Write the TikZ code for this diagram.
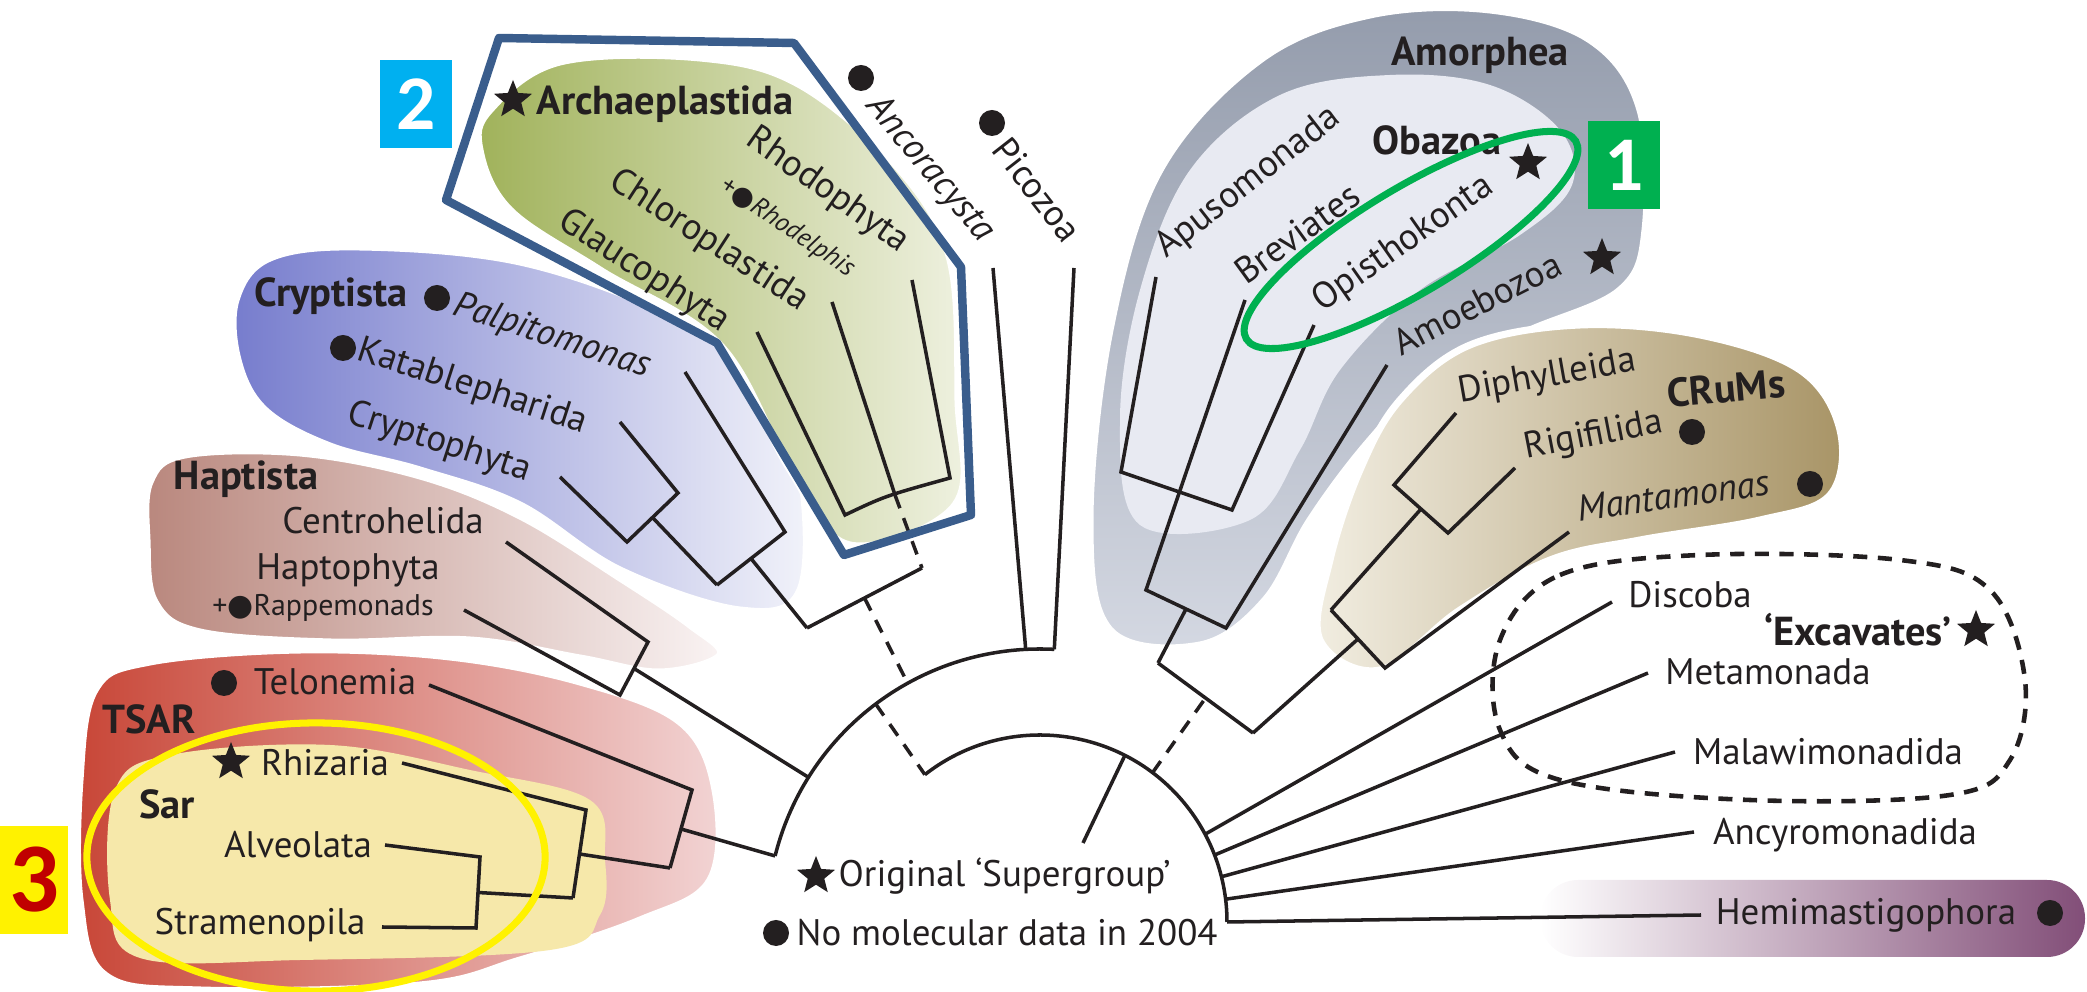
\documentclass[tikz,border=0pt]{standalone}
\usepackage{fontspec}
\setmainfont{PT Sans}
\newfontfamily\tagfont{Carlito}
\newfontfamily\symfont{DejaVu Sans}
\usetikzlibrary{shapes.geometric,calc}

\definecolor{inkc}{RGB}{35,31,32}
\definecolor{archL}{RGB}{160,178,90}
\definecolor{archR}{RGB}{240,242,226}
\definecolor{cryL}{RGB}{118,124,205}
\definecolor{cryR}{RGB}{242,243,250}
\definecolor{hapL}{RGB}{185,135,125}
\definecolor{hapR}{RGB}{250,244,244}
\definecolor{tsarL}{RGB}{200,70,55}
\definecolor{tsarR}{RGB}{242,212,212}
\definecolor{sarC}{RGB}{246,232,170}
\definecolor{amoTop}{RGB}{148,156,172}
\definecolor{amoBot}{RGB}{212,216,226}
\definecolor{obaC}{RGB}{232,234,242}
\definecolor{crumL}{RGB}{242,238,226}
\definecolor{crumR}{RGB}{168,148,102}
\definecolor{hemiR}{RGB}{130,78,120}
\definecolor{polyblue}{RGB}{58,93,140}
\definecolor{boxcyan}{RGB}{0,176,240}
\definecolor{boxgreen}{RGB}{0,176,80}
\definecolor{tagred}{RGB}{192,0,0}

\begin{document}
\begin{tikzpicture}[x=0.01cm,y=0.01cm,
  taxon/.style={font=\fontsize{10.5}{12}\selectfont, text=inkc, inner sep=0pt},
  taxit/.style={font=\fontsize{10.5}{12}\selectfont\itshape, text=inkc, inner sep=0pt},
  clade/.style={font=\fontsize{11.5}{13}\selectfont\bfseries, text=inkc, inner sep=0pt},
  small/.style={font=\fontsize{7.5}{9}\selectfont, text=inkc, inner sep=0pt},
  branch/.style={line width=1pt, draw=inkc},
  unsure/.style={line width=1pt, draw=inkc, dash pattern=on 4pt off 3pt},
  nodata/.style={circle, fill=inkc, minimum size=0.26cm, inner sep=0pt},
  super/.style={star, star points=5, star point ratio=2.3, fill=inkc, minimum size=0.4cm, inner sep=0pt},
  blob/.style={draw=white, line width=2pt},
  tag/.style={minimum width=0.72cm, minimum height=0.88cm, inner sep=0pt, font=\tagfont\bfseries\fontsize{22}{22}\selectfont, text=white}
]
\useasboundingbox (0,0) rectangle (2087,-992);

% coloured clades
\shadedraw[blob, left color=cryL, right color=cryR] plot[smooth cycle, tension=0.6] coordinates {(236,-300) (270,-258) (360,-247) (520,-262) (670,-315) (760,-380) (800,-470) (800,-590) (740,-610) (620,-570) (520,-505) (420,-470) (330,-446) (265,-410) (238,-360)};
\shadedraw[blob, left color=hapL, right color=hapR] plot[smooth cycle, tension=0.6] coordinates {(150,-482) (185,-455) (300,-453) (420,-476) (520,-516) (620,-578) (690,-625) (720,-655) (660,-672) (580,-658) (470,-640) (330,-642) (200,-632) (155,-602) (147,-540)};
\shadedraw[blob, left color=tsarL, right color=tsarR] plot[smooth cycle, tension=0.6] coordinates {(95,-690) (150,-662) (300,-650) (450,-657) (580,-682) (680,-722) (715,-790) (710,-880) (640,-920) (520,-960) (420,-985) (200,-990) (105,-975) (80,-900) (80,-780)};
\fill[sarC] plot[smooth cycle, tension=0.6] coordinates {(115,-790) (170,-755) (330,-745) (470,-770) (590,-800) (605,-860) (600,-915) (550,-950) (300,-960) (140,-958) (110,-900)};
\shadedraw[blob, left color=archL, right color=archR] plot[smooth cycle, tension=0.6] coordinates {(490,-110) (560,-62) (700,-58) (800,-85) (900,-170) (950,-260) (958,-400) (955,-505) (850,-545) (790,-470) (720,-345) (600,-270) (510,-210) (480,-150)};
\shadedraw[blob, top color=amoTop, bottom color=amoBot] plot[smooth cycle, tension=0.6] coordinates {(1110,-330) (1160,-170) (1260,-60) (1370,-15) (1490,-10) (1590,-40) (1640,-110) (1645,-230) (1620,-290) (1530,-330) (1440,-370) (1370,-440) (1310,-520) (1265,-600) (1200,-645) (1110,-630) (1090,-520)};
\fill[obaC] plot[smooth cycle, tension=0.6] coordinates {(1140,-290) (1190,-170) (1280,-95) (1390,-75) (1490,-85) (1560,-130) (1572,-185) (1520,-235) (1420,-290) (1340,-370) (1300,-450) (1250,-520) (1140,-525) (1120,-420)};
\shadedraw[blob, left color=crumL, right color=crumR] plot[smooth cycle, tension=0.6] coordinates {(1400,-400) (1470,-345) (1580,-325) (1700,-335) (1800,-370) (1840,-430) (1830,-495) (1760,-520) (1640,-540) (1550,-560) (1460,-610) (1380,-670) (1320,-640) (1330,-560) (1360,-470)};
\shade[left color=white, middle color=hemiR!45, right color=hemiR, rounded corners=0.38cm] (1540,-880) rectangle (2085,-957);

% tree tips and joints
\coordinate (O) at (1040,-922);
\coordinate (oTsar) at ($(O)+(166:273)$);
\coordinate (oHap) at ($(O)+(148:273)$);
\coordinate (oRoot) at ($(O)+(127:273)$);
\coordinate (oCA) at ($(O)+(119:273)$);
\coordinate (oAnc) at ($(O)+(93:273)$);
\coordinate (oPic) at ($(O)+(87:273)$);
\coordinate (iLeft) at ($(O)+(128:187)$);
\coordinate (iRoot) at ($(O)+(63:187)$);
\coordinate (iAC) at ($(O)+(53:187)$);
\coordinate (root) at (1083,-843);

\coordinate (glauT) at (757,-332);  \coordinate (glauB) at (845,-515);
\coordinate (chloT) at (832,-302);  \coordinate (chloB) at (895,-495);
\coordinate (rhodT) at (912,-280);  \coordinate (rhodB) at (950,-478);
\coordinate (caL) at (807,-628);    \coordinate (caR) at (922,-568);
\coordinate (palT) at (685,-372);   \coordinate (palB) at (785,-532);
\coordinate (cryL) at (717,-585);
\coordinate (kataT) at (620,-422);  \coordinate (kataB) at (678,-493);
\coordinate (cphT) at (560,-477);   \coordinate (cphB) at (627,-542);
\coordinate (cenT) at (506,-542);   \coordinate (cenB) at (648,-642);
\coordinate (rapT) at (464,-610);   \coordinate (rapB) at (620,-695);
\coordinate (telT) at (429,-685);   \coordinate (telB) at (692,-790);
\coordinate (tsB) at (670,-868);
\coordinate (rhiT) at (402,-763);   \coordinate (rhiB) at (586,-810);
\coordinate (sarB) at (573,-898);
\coordinate (alvT) at (385,-845);   \coordinate (alvB) at (480,-857);
\coordinate (strT) at (382,-927);   \coordinate (strB) at (476,-928);
\coordinate (ancT) at (993,-268);   \coordinate (picT) at (1074,-268);
\coordinate (amL) at (1158,-663);   \coordinate (amR) at (1253,-733);
\coordinate (breT) at (1245,-300);  \coordinate (breB) at (1146,-590);
\coordinate (amoT) at (1387,-365);  \coordinate (amoB) at (1226,-628);
\coordinate (apuT) at (1156,-277);  \coordinate (apuB) at (1121,-472);
\coordinate (opiT) at (1314,-325);  \coordinate (opiB) at (1232,-510);
\coordinate (cruL) at (1331,-610);
\coordinate (manT) at (1569,-532);  \coordinate (manB) at (1385,-668);
\coordinate (dipT) at (1456,-413);  \coordinate (dipB) at (1394,-485);
\coordinate (rigT) at (1515,-468);  \coordinate (rigB) at (1448,-533);
\coordinate (disT) at (1612,-602);  \coordinate (metT) at (1648,-673);
\coordinate (malT) at (1675,-752);  \coordinate (ancyT) at (1694,-832);
\coordinate (hemT) at (1701,-915);

% backbone
\draw[branch] (oTsar) arc[start angle=166, end angle=87, radius=273];
\draw[branch] (iLeft) arc[start angle=128, end angle=0, radius=187];
\draw[unsure] (oRoot) -- (iLeft);
\draw[branch] (iRoot) -- (root);
\draw[branch] (ancT) -- (oAnc);
\draw[branch] (picT) -- (oPic);

% Archaeplastida and Cryptista
\draw[branch] (glauT) -- (glauB) .. controls (885,-496) .. (rhodB) -- (rhodT);
\draw[branch] (chloT) -- (chloB);
\draw[unsure] (chloB) -- (caR);
\draw[branch] (caL) -- (caR);
\draw[unsure] ($(caL)!.5!(caR)$) -- (oCA);
\draw[branch] (palT) -- (palB) -- (cryL);
\draw[branch] ($(cryL)!.5!(palB)$) -- (caL);
\draw[branch] (kataT) -- (kataB) -- (cphB) -- (cphT);
\draw[branch] ($(kataB)!.5!(cphB)$) -- (cryL);

% Haptista
\draw[branch] (cenT) -- (cenB) -- (rapB) -- (rapT);
\draw[branch] ($(cenB)!.5!(rapB)$) -- (oHap);

% TSAR
\draw[branch] (alvT) -- (alvB) -- (strB) -- (strT);
\draw[branch] ($(alvB)!.5!(strB)$) -- (sarB);
\draw[branch] (rhiT) -- (rhiB) -- (sarB);
\draw[branch] ($(rhiB)!.5!(sarB)$) -- (tsB);
\draw[branch] (telT) -- (telB) -- (tsB);
\draw[branch] ($(telB)!.5!(tsB)$) -- (oTsar);

% Amorphea and CRuMs
\draw[unsure] (iAC) -- ($(amL)!.5!(amR)$);
\draw[branch] (amL) -- (amR);
\draw[branch] (amL) -- ($(breB)!.5!(amoB)$);
\draw[branch] (breT) -- (breB) -- (amoB) -- (amoT);
\draw[branch] (apuT) -- (apuB) -- (opiB) -- (opiT);
\draw[branch] (amR) -- ($(cruL)!.5!(manB)$);
\draw[branch] (cruL) -- (manB) -- (manT);
\draw[branch] (cruL) -- ($(dipB)!.5!(rigB)$);
\draw[branch] (dipT) -- (dipB) -- (rigB) -- (rigT);

% excavates and the rest
\foreach \a/\t in {28/disT, 21/metT, 14/malT, 7/ancyT, 0/hemT}
  \draw[branch] ($(O)+(\a:187)$) -- (\t);
\draw[unsure, line width=1.3pt] plot[smooth cycle, tension=0.6] coordinates {(1500,-640) (1560,-575) (1700,-555) (1900,-560) (1990,-590) (2025,-680) (2010,-760) (1950,-795) (1750,-800) (1560,-780) (1500,-730)};

% labels
\node[super] (sArch) at (513,-100) {};
\node[clade, anchor=west] (arch) at (536,-104) {Archaeplastida};
\node[taxon, rotate=-35, anchor=west] (rhod) at (749,-136) {Rhodophyta};
\node[small, rotate=-34, anchor=west] (rhdl) at (722,-184) {+{\symfont ●}\textit{Rhodelphis}};
\node[taxon, rotate=-33, anchor=west] (chlo) at (612,-178) {Chloroplastida};
\node[taxon, rotate=-33, anchor=west] (glau) at (561,-218) {Glaucophyta};
\node[nodata] (dAnc) at (861,-78) {};
\node[taxit, rotate=-50, anchor=west] (anco) at (872,-100) {Ancoracysta};
\node[nodata] (dPic) at (992,-123) {};
\node[taxon, rotate=-52, anchor=west] (pico) at (1000,-142) {Picozoa};

\node[clade] (cryp) at (331,-296) {Cryptista};
\node[nodata] (dPal) at (437,-298) {};
\node[taxit, rotate=-18, anchor=west] (palp) at (454,-305) {Palpitomonas};
\node[nodata] (dKat) at (343,-348) {};
\node[taxon, rotate=-18, anchor=west] (kata) at (358,-350) {Katablepharida};
\node[taxon, rotate=-18, anchor=west] (crph) at (348,-413) {Cryptophyta};

\node[clade] (hapt) at (246,-479) {Haptista};
\node[taxon] (cent) at (383,-521) {Centrohelida};
\node[taxon] (happ) at (348,-570) {Haptophyta};
\node[small, font=\fontsize{8.5}{10}\selectfont] (rapp) at (323,-608) {+{\symfont ●}Rappemonads};

\node[nodata] (dTel) at (224,-683) {};
\node[taxon] (telo) at (335,-682) {Telonemia};
\node[clade] (tsar) at (149,-719) {TSAR};
\node[super] (sRhi) at (231,-762) {};
\node[taxon] (rhiz) at (325,-763) {Rhizaria};
\node[clade] (sar) at (167,-804) {Sar};
\node[taxon] (alve) at (298,-845) {Alveolata};
\node[taxon] (stra) at (260,-925) {Stramenopila};

\node[clade] (amor) at (1480,-55) {Amorphea};
\node[clade] (obaz) at (1437,-140) {Obazoa};
\node[taxon, rotate=38, anchor=west] (apus) at (1160,-252) {Apusomonada};
\node[taxon, rotate=36, anchor=west] (brev) at (1238,-276) {Breviates};
\node[taxon, rotate=35, anchor=west] (opis) at (1316,-305) {Opisthokonta};
\node[super] (sOpi) at (1528,-163) {};
\node[taxon, rotate=27, anchor=west] (amoe) at (1395,-345) {Amoebozoa};
\node[super] (sAmo) at (1602,-258) {};

\node[taxon, rotate=10, anchor=west] (diph) at (1458,-393) {Diphylleida};
\node[clade, rotate=5] (crum) at (1726,-388) {CRuMs};
\node[taxon, rotate=11, anchor=west] (rigi) at (1524,-450) {Rigifilida};
\node[nodata] (dRig) at (1692,-432) {};
\node[taxit, rotate=8, anchor=west] (mant) at (1577,-509) {Mantamonas};
\node[nodata] (dMan) at (1810,-484) {};

\node[taxon] (disc) at (1690,-595) {Discoba};
\node[clade] (exca) at (1858,-630) {‘Excavates’};
\node[super] (sExc) at (1976,-630) {};
\node[taxon] (meta) at (1768,-672) {Metamonada};
\node[taxon] (mala) at (1828,-752) {Malawimonadida};
\node[taxon] (ancy) at (1845,-835) {Ancyromonadida};
\node[taxon] (hemi) at (1866,-915) {Hemimastigophora};
\node[nodata] (dHem) at (2050,-913) {};

% legend
\node[super] (sLeg) at (816,-876) {};
\node[taxon, anchor=west] (legS) at (838,-876) {Original ‘Supergroup’};
\node[nodata] (dLeg) at (776,-933) {};
\node[taxon, anchor=west] (legD) at (796,-933) {No molecular data in 2004};

% highlights
\draw[polyblue, line width=2.4pt, line join=round] (499,-38) -- (794,-43) -- (961,-267) -- (971,-515) -- (844,-555) -- (717,-343) -- (446,-200) -- cycle;
\node[ellipse, draw=boxgreen, line width=2pt, minimum width=3.84cm, minimum height=1.04cm, rotate=31] (opiRing) at (1411,-240) {};
\node[ellipse, draw=yellow, line width=2pt, minimum width=4.58cm, minimum height=2.68cm] (sarRing) at (316,-857) {};
\node[tag, fill=boxcyan] (tag2) at (416,-104) {2};
\node[tag, fill=boxgreen] (tag1) at (1624,-165) {1};
\node[tag, fill=yellow, text=tagred, minimum width=0.68cm, minimum height=1.08cm, font=\tagfont\bfseries\fontsize{28}{28}\selectfont] (tag3) at (34,-880) {3};
\end{tikzpicture}
\end{document}
